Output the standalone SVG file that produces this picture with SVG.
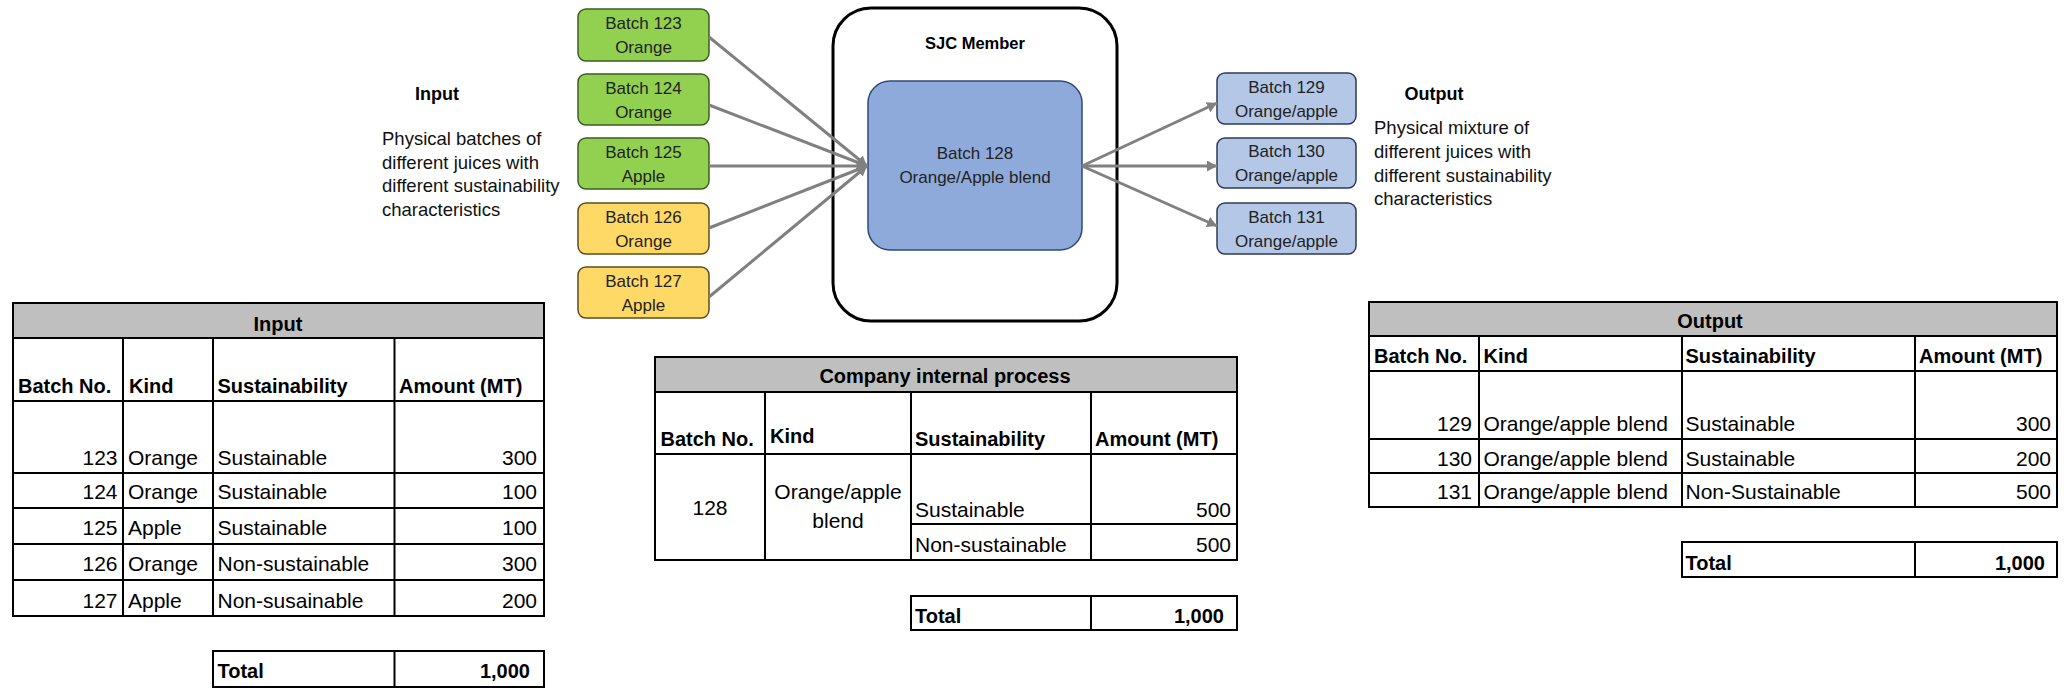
<svg xmlns="http://www.w3.org/2000/svg" width="2064" height="688" viewBox="0 0 2064 688">
  <style>
    text { font-family: "Liberation Sans", Arial, sans-serif; fill: #000; }
    .box { stroke-width: 1.5; }
    .green { fill: #92d050; stroke: #3d5c22; }
    .yellow { fill: #ffd966; stroke: #5e4c1c; }
    .lblue { fill: #b4c7e7; stroke: #2c3b58; }
    .btxt { font-size: 17px; fill: #222; text-anchor: middle; }
    .conn { stroke: #808080; stroke-width: 3; fill: none; marker-end: url(#arrow); }
    .lbl { font-size: 18px; font-weight: bold; text-anchor: middle; }
    .desc { font-size: 18.5px; fill: #111; }
    .grid { stroke: #000; stroke-width: 2; fill: none; }
    .head { fill: #bfbfbf; stroke: #000; stroke-width: 2; }
    .th { font-size: 20px; font-weight: bold; }
    .td { font-size: 21px; }
    .r { text-anchor: end; }
    .c { text-anchor: middle; }
  </style>
  <defs>
    <marker id="arrow" markerUnits="userSpaceOnUse" markerWidth="11" markerHeight="11" refX="10" refY="5.5" orient="auto">
      <path d="M0,0 L10,5.5 L0,11 Z" fill="#808080"/>
    </marker>
  </defs>

  <rect width="2064" height="688" fill="#fff"/>

  <!-- Left caption -->
  <g id="input-caption">
    <text class="lbl" x="437" y="100">Input</text>
    <text class="desc" x="382" y="145">Physical batches of</text>
    <text class="desc" x="382" y="168.5">different juices with</text>
    <text class="desc" x="382" y="192">different sustainability</text>
    <text class="desc" x="382" y="215.5">characteristics</text>
  </g>

  <!-- Right caption -->
  <g id="output-caption">
    <text class="lbl" x="1434" y="100">Output</text>
    <text class="desc" x="1374" y="134">Physical mixture of</text>
    <text class="desc" x="1374" y="158">different juices with</text>
    <text class="desc" x="1374" y="182">different sustainability</text>
    <text class="desc" x="1374" y="205">characteristics</text>
  </g>

  <!-- SJC member container -->
  <g id="sjc-member">
    <rect x="833" y="8" width="284" height="313" rx="38" fill="#fff" stroke="#000" stroke-width="3"/>
    <text x="975" y="49" font-size="16.5" font-weight="bold" text-anchor="middle">SJC Member</text>
  </g>

  <g id="batch-128">
    <rect x="868" y="81" width="214" height="169" rx="22" fill="#8eaadb" stroke="#2f4a7a" stroke-width="1.5"/>
    <text class="btxt" x="975" y="159" font-size="18">Batch 128</text>
    <text class="btxt" x="975" y="183" font-size="18">Orange/Apple blend</text>
  </g>

  <!-- Input batches -->
  <g id="batch-123">
    <rect class="box green" x="578" y="9" width="131" height="52" rx="8"/>
    <text class="btxt" x="643.5" y="29">Batch 123</text>
    <text class="btxt" x="643.5" y="53">Orange</text>
  </g>
  <g id="batch-124">
    <rect class="box green" x="578" y="74" width="131" height="51" rx="8"/>
    <text class="btxt" x="643.5" y="93.5">Batch 124</text>
    <text class="btxt" x="643.5" y="117.5">Orange</text>
  </g>
  <g id="batch-125">
    <rect class="box green" x="578" y="138" width="131" height="51" rx="8"/>
    <text class="btxt" x="643.5" y="157.5">Batch 125</text>
    <text class="btxt" x="643.5" y="181.5">Apple</text>
  </g>
  <g id="batch-126">
    <rect class="box yellow" x="578" y="203" width="131" height="51" rx="8"/>
    <text class="btxt" x="643.5" y="222.5">Batch 126</text>
    <text class="btxt" x="643.5" y="246.5">Orange</text>
  </g>
  <g id="batch-127">
    <rect class="box yellow" x="578" y="267" width="131" height="51" rx="8"/>
    <text class="btxt" x="643.5" y="286.5">Batch 127</text>
    <text class="btxt" x="643.5" y="310.5">Apple</text>
  </g>

  <!-- Output batches -->
  <g id="batch-129">
    <rect class="box lblue" x="1217" y="73" width="139" height="51" rx="8"/>
    <text class="btxt" x="1286.5" y="92.5">Batch 129</text>
    <text class="btxt" x="1286.5" y="116.5">Orange/apple</text>
  </g>
  <g id="batch-130">
    <rect class="box lblue" x="1217" y="138" width="139" height="50" rx="8"/>
    <text class="btxt" x="1286.5" y="157">Batch 130</text>
    <text class="btxt" x="1286.5" y="181">Orange/apple</text>
  </g>
  <g id="batch-131">
    <rect class="box lblue" x="1217" y="203" width="139" height="51" rx="8"/>
    <text class="btxt" x="1286.5" y="222.5">Batch 131</text>
    <text class="btxt" x="1286.5" y="246.5">Orange/apple</text>
  </g>

  <!-- Connectors -->
  <g id="connectors">
    <line class="conn" x1="709" y1="37" x2="867" y2="166"/>
    <line class="conn" x1="709" y1="105" x2="867" y2="166"/>
    <line class="conn" x1="709" y1="166" x2="867" y2="166"/>
    <line class="conn" x1="709" y1="228" x2="867" y2="166"/>
    <line class="conn" x1="709" y1="297" x2="867" y2="166"/>
    <line class="conn" x1="1082" y1="166" x2="1217" y2="103"/>
    <line class="conn" x1="1082" y1="166" x2="1217" y2="166"/>
    <line class="conn" x1="1082" y1="166" x2="1217" y2="226"/>
  </g>

  <!-- Input table -->
  <g id="input-table">
    <rect class="head" x="13" y="303" width="531" height="35"/>
    <rect class="grid" x="13" y="303" width="531" height="313"/>
    <path class="grid" d="M13,401H544 M13,473H544 M13,508H544 M13,544H544 M13,580H544 M123,338V616 M213,338V616 M394.5,338V616"/>
    <text class="th c" x="278" y="331">Input</text>
    <text class="th" x="18" y="393">Batch No.</text>
    <text class="th" x="129" y="393">Kind</text>
    <text class="th" x="217.5" y="393">Sustainability</text>
    <text class="th" x="399" y="393">Amount (MT)</text>
    <text class="td r" x="117.5" y="465">123</text>
    <text class="td" x="128" y="465">Orange</text>
    <text class="td" x="217.5" y="465">Sustainable</text>
    <text class="td r" x="537" y="465">300</text>
    <text class="td r" x="117.5" y="499">124</text>
    <text class="td" x="128" y="499">Orange</text>
    <text class="td" x="217.5" y="499">Sustainable</text>
    <text class="td r" x="537" y="499">100</text>
    <text class="td r" x="117.5" y="535">125</text>
    <text class="td" x="128" y="535">Apple</text>
    <text class="td" x="217.5" y="535">Sustainable</text>
    <text class="td r" x="537" y="535">100</text>
    <text class="td r" x="117.5" y="571">126</text>
    <text class="td" x="128" y="571">Orange</text>
    <text class="td" x="217.5" y="571">Non-sustainable</text>
    <text class="td r" x="537" y="571">300</text>
    <text class="td r" x="117.5" y="608">127</text>
    <text class="td" x="128" y="608">Apple</text>
    <text class="td" x="217.5" y="608">Non-susainable</text>
    <text class="td r" x="537" y="608">200</text>
  </g>
  <g id="input-total">
    <rect class="grid" x="213" y="651" width="331" height="36"/>
    <path class="grid" d="M394.5,651V687"/>
    <text class="th" x="217.5" y="678">Total</text>
    <text class="th r" x="530" y="678">1,000</text>
  </g>

  <!-- Company internal process table -->
  <g id="process-table">
    <rect class="head" x="655" y="357" width="582" height="35"/>
    <rect class="grid" x="655" y="357" width="582" height="203"/>
    <path class="grid" d="M655,454H1237 M911,524H1237 M765,392V560 M911,392V560 M1091,392V560"/>
    <text class="th c" x="945" y="383">Company internal process</text>
    <text class="th" x="660.5" y="446">Batch No.</text>
    <text class="th" x="770" y="443">Kind</text>
    <text class="th" x="915" y="446">Sustainability</text>
    <text class="th" x="1095" y="446">Amount (MT)</text>
    <text class="td c" x="710" y="515">128</text>
    <text class="td c" x="838" y="499">Orange/apple</text>
    <text class="td c" x="838" y="528">blend</text>
    <text class="td" x="915" y="517">Sustainable</text>
    <text class="td r" x="1231" y="517">500</text>
    <text class="td" x="915" y="552">Non-sustainable</text>
    <text class="td r" x="1231" y="552">500</text>
  </g>
  <g id="process-total">
    <rect class="grid" x="911" y="596" width="326" height="34"/>
    <path class="grid" d="M1091,596V630"/>
    <text class="th" x="915" y="623">Total</text>
    <text class="th r" x="1224" y="623">1,000</text>
  </g>

  <!-- Output table -->
  <g id="output-table">
    <rect class="head" x="1369" y="302" width="688" height="34"/>
    <rect class="grid" x="1369" y="302" width="688" height="205"/>
    <path class="grid" d="M1369,371H2057 M1369,439H2057 M1369,473H2057 M1479,336V507 M1682,336V507 M1915,336V507"/>
    <text class="th c" x="1710" y="328">Output</text>
    <text class="th" x="1374" y="363">Batch No.</text>
    <text class="th" x="1483.5" y="363">Kind</text>
    <text class="th" x="1685.5" y="363">Sustainability</text>
    <text class="th" x="1919" y="363">Amount (MT)</text>
    <text class="td r" x="1472" y="431">129</text>
    <text class="td" x="1483.5" y="431">Orange/apple blend</text>
    <text class="td" x="1685.5" y="431">Sustainable</text>
    <text class="td r" x="2051" y="431">300</text>
    <text class="td r" x="1472" y="466">130</text>
    <text class="td" x="1483.5" y="466">Orange/apple blend</text>
    <text class="td" x="1685.5" y="466">Sustainable</text>
    <text class="td r" x="2051" y="466">200</text>
    <text class="td r" x="1472" y="499">131</text>
    <text class="td" x="1483.5" y="499">Orange/apple blend</text>
    <text class="td" x="1685.5" y="499">Non-Sustainable</text>
    <text class="td r" x="2051" y="499">500</text>
  </g>
  <g id="output-total">
    <rect class="grid" x="1682" y="542" width="375" height="35"/>
    <path class="grid" d="M1915,542V577"/>
    <text class="th" x="1685.5" y="570">Total</text>
    <text class="th r" x="2045" y="570">1,000</text>
  </g>
</svg>
